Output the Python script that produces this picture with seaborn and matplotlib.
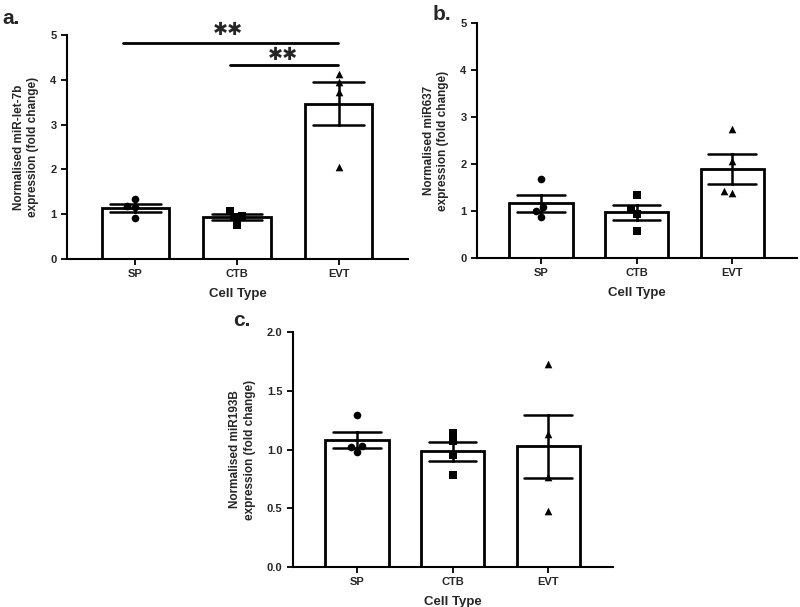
"""Three-panel bar + scatter figure of normalised miRNA expression by cell type."""

import matplotlib

matplotlib.use("Agg")
import matplotlib.pyplot as plt
import pandas as pd
import seaborn as sns

sns.set_style("ticks")
plt.rcParams["font.family"] = ["Liberation Sans", "DejaVu Sans"]
plt.rcParams["font.weight"] = "bold"
plt.rcParams["axes.labelweight"] = "bold"

CELL_TYPES = ["SP", "CTB", "EVT"]
MARKERS = {"SP": "o", "CTB": "s", "EVT": "^"}

# individual replicate values
let7b_sp = [1.16, 1.18, 1.34, 0.91]
let7b_ctb = [1.07, 0.97, 0.93, 0.77]
let7b_evt = [4.13, 3.95, 3.72, 2.05]

mir637_sp = [1.68, 1.09, 1.01, 0.88]
mir637_ctb = [1.33, 1.05, 0.94, 0.57]
mir637_evt = [2.74, 2.06, 1.43, 1.38]

mir193b_sp = [1.29, 1.03, 0.98, 1.02]
mir193b_ctb = [1.14, 1.07, 0.95, 0.78]
mir193b_evt = [1.73, 1.13, 0.77, 0.48]


def _frame(sp, ctb, evt):
    rows = []
    for cell, vals in zip(CELL_TYPES, (sp, ctb, evt)):
        rows += [{"cell": cell, "value": v} for v in vals]
    return pd.DataFrame(rows)


def draw_panel(ax, df, ylabel, ymax, yticks, fmt):
    sns.barplot(
        data=df, x="cell", y="value", order=CELL_TYPES, ax=ax,
        color="white", saturation=1, edgecolor="black", linewidth=2,
        width=0.66, errorbar="se", capsize=0.5,
        err_kws={"color": "black", "linewidth": 1.8},
    )
    for cell in CELL_TYPES:
        sub = df[df["cell"] == cell]
        sns.swarmplot(
            data=sub, x="cell", y="value", order=CELL_TYPES, ax=ax,
            color="black", marker=MARKERS[cell], size=5.5, zorder=4,
        )
    ax.set_xlim(-0.67, 2.68)
    ax.set_ylim(0, ymax)
    ax.set_yticks(yticks)
    ax.set_yticklabels([fmt.format(t) for t in yticks])
    ax.set_xlabel("Cell Type", fontsize=9.5, labelpad=6)
    ax.set_ylabel(ylabel, fontsize=8.5, labelpad=8, linespacing=1.3)
    ax.tick_params(axis="both", labelsize=8, width=1.3, length=4, color="black")
    for side in ("left", "bottom"):
        ax.spines[side].set_linewidth(1.5)
        ax.spines[side].set_color("black")
    sns.despine(ax=ax)


W, H = 800, 607
fig = plt.figure(figsize=(W / 100, H / 100), dpi=100)


def px_axes(left, right, top, bottom):
    return fig.add_axes([left / W, (H - bottom) / H, (right - left) / W, (bottom - top) / H])


ax_a = px_axes(67, 408, 35, 259)
ax_b = px_axes(477, 797, 23, 258)
ax_c = px_axes(293, 613, 332, 567)

draw_panel(ax_a, _frame(let7b_sp, let7b_ctb, let7b_evt),
           "Normalised miR-let-7b\nexpression (fold change)", 5, range(6), "{:d}")
draw_panel(ax_b, _frame(mir637_sp, mir637_ctb, mir637_evt),
           "Normalised miR637\nexpression (fold change)", 5, range(6), "{:d}")
draw_panel(ax_c, _frame(mir193b_sp, mir193b_ctb, mir193b_evt),
           "Normalised miR193B\nexpression (fold change)", 2.0,
           [0.0, 0.5, 1.0, 1.5, 2.0], "{:.1f}")

# significance brackets on panel a
ax_a.plot([-0.12, 1.99], [4.82, 4.82], color="black", lw=2, clip_on=False)
ax_a.plot([0.93, 1.99], [4.33, 4.33], color="black", lw=2, clip_on=False)
star_kw = dict(ha="center", va="center", fontsize=13, family="DejaVu Sans", clip_on=False)
ax_a.text(0.91, 5.11, "\u2731\u2731", **star_kw)
ax_a.text(1.45, 4.55, "\u2731\u2731", **star_kw)

fig.text(2 / W, 1 - 19 / H, "a.", fontsize=15, fontweight="bold", va="center")
fig.text(433 / W, 1 - 14 / H, "b.", fontsize=15, fontweight="bold", va="center")
fig.text(233 / W, 1 - 320 / H, "c.", fontsize=15, fontweight="bold", va="center")

fig.savefig("out.png", dpi=100)
